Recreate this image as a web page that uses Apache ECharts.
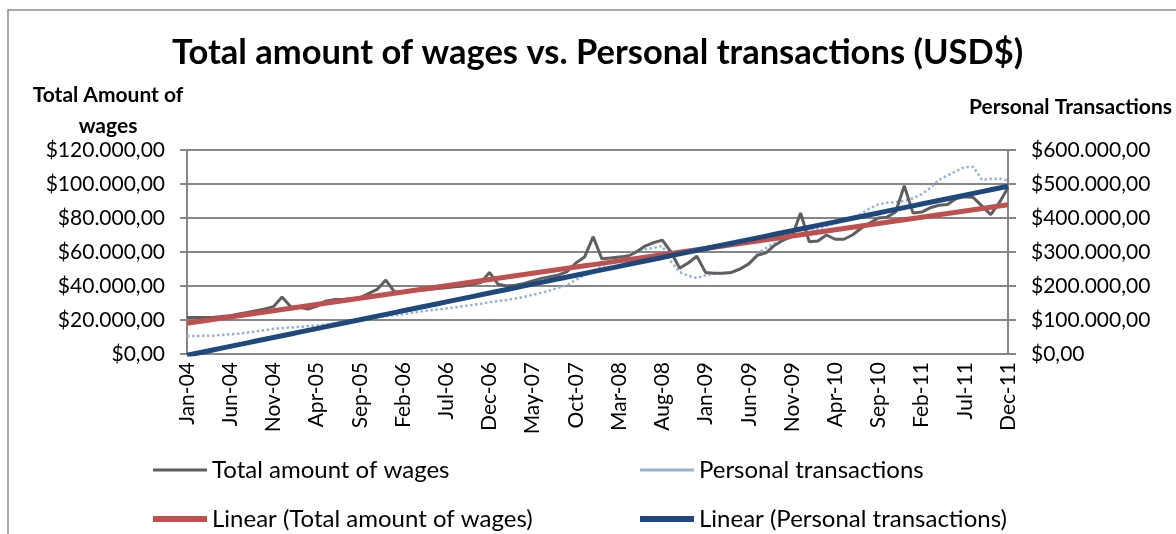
<!DOCTYPE html>
<html>
<head>
<meta charset="utf-8">
<script src="https://cdn.jsdelivr.net/npm/echarts@6/dist/echarts.min.js"></script>
<style>
  html, body { margin: 0; padding: 0; background: #fff; }
  #chart { width: 1176px; height: 534px; }
</style>
</head>
<body>
<div id="chart"></div>
<script>
// Months Jan-04 .. Dec-11
const monthNames = ['Jan', 'Feb', 'Mar', 'Apr', 'May', 'Jun', 'Jul', 'Aug', 'Sep', 'Oct', 'Nov', 'Dec'];
const years = ['04', '05', '06', '07', '08', '09', '10', '11'];
const months = [];
years.forEach(y => monthNames.forEach(m => months.push(m + '-' + y)));

// Total amount of wages (left axis, USD$)
const wages = [
    21500, 21500, 21500, 21500, 22000, 22500, 23500, 24500, 25500, 26500, 27800, 33500,
    27800, 27500, 26500, 28000, 31000, 32000, 32000, 32500, 33000, 35500, 38000, 43500,
    36500, 36500, 37000, 37500, 38000, 38500, 39000, 39500, 40000, 41000, 42000, 48000,
    41000, 40000, 40500, 41500, 43000, 44500, 45500, 46500, 48500, 53500, 57000, 69000,
    56000, 56500, 57000, 57500, 60000, 63500, 65500, 67000, 60000, 50500, 53500, 57500,
    48000, 47500, 47500, 48000, 50000, 53000, 58000, 59500, 64000, 67000, 69000, 83000,
    66000, 66500, 70000, 67500, 67500, 70000, 74000, 77000, 80000, 80500, 83500, 99000,
    83000, 83500, 86000, 87500, 88000, 91500, 92500, 92000, 87000, 82000, 89000, 98000
];

// Personal transactions (right axis, USD$)
const personal = [
    53000, 53000, 53500, 54000, 56000, 58000, 60000, 63000, 67000, 70000, 74000, 76000,
    78000, 80000, 82000, 84000, 86000, 89000, 91000, 95000, 99000, 103000, 107000, 111000,
    114000, 117000, 121000, 125000, 128000, 131000, 134000, 137000, 141000, 144000, 148000, 152000,
    156000, 159000, 163000, 168000, 174000, 180000, 187000, 195000, 203000, 218000, 232000, 245000,
    258000, 270000, 282000, 293000, 303000, 308000, 312000, 318000, 272000, 241000, 230000, 223000,
    232000, 236000, 238000, 241000, 250000, 264000, 295000, 312000, 326000, 336000, 344000, 352000,
    360000, 368000, 376000, 384000, 392000, 402000, 412000, 428000, 440000, 445000, 447000, 450000,
    458000, 470000, 488000, 512000, 525000, 538000, 550000, 550000, 512000, 515000, 516000, 510000
];

const leftTicks = [0, 20000, 40000, 60000, 80000, 100000, 120000];
const rightTicks = [0, 100000, 200000, 300000, 400000, 500000, 600000];

// least squares trend, like Excel's linear trendline
function linearTrend(values) {
    const n = values.length;
    let sx = 0, sy = 0, sxx = 0, sxy = 0;
    values.forEach((v, i) => {
        const x = i + 1;
        sx += x; sy += v; sxx += x * x; sxy += x * v;
    });
    const b = (n * sxy - sx * sy) / (n * sxx - sx * sx);
    const a = (sy - b * sx) / n;
    return values.map((v, i) => a + b * (i + 1));
}

// $120.000,00 style
function money(v) {
    return '$' + String(Math.round(v)).replace(/\B(?=(\d{3})+(?!\d))/g, '.') + ',00';
}

const FONT = 'Lato';
const chart = echarts.init(document.getElementById('chart'));

const legendBase = {
    orient: 'horizontal',
    itemWidth: 54,
    itemGap: 4,
    icon: 'rect',
    textStyle: { fontFamily: FONT, fontSize: 24, color: '#000' }
};

const option = {
    animation: false,
    backgroundColor: '#fff',
    textStyle: { fontFamily: FONT },
    title: {
        text: 'Total amount of wages vs. Personal transactions (USD$)',
        left: 167,
        top: 30,
        textStyle: { fontFamily: FONT, fontSize: 34.5, fontWeight: 'bold', color: '#000' }
    },
    graphic: [
        {
            type: 'rect',
            shape: { x: 8, y: 10, width: 1200, height: 560 },
            style: { fill: 'none', stroke: '#8c8c8c', lineWidth: 1.5 },
            silent: true
        },
        {
            type: 'text', x: 108, y: 95,
            style: { text: 'Total Amount of', font: 'bold 21px Lato', fill: '#000', align: 'center', verticalAlign: 'middle' }
        },
        {
            type: 'text', x: 108, y: 126,
            style: { text: 'wages', font: 'bold 21px Lato', fill: '#000', align: 'center', verticalAlign: 'middle' }
        },
        {
            type: 'text', x: 1172, y: 107,
            style: { text: 'Personal Transactions', font: 'bold 21px Lato', fill: '#000', align: 'right', verticalAlign: 'middle' }
        }
    ],
    legend: [
        Object.assign({}, legendBase, { left: 148, top: 453, itemHeight: 3, data: ['Total amount of wages'] }),
        Object.assign({}, legendBase, { left: 635, top: 453, itemHeight: 3, data: ['Personal transactions'] }),
        Object.assign({}, legendBase, { left: 148, top: 502, itemHeight: 6, data: ['Linear (Total amount of wages)'] }),
        Object.assign({}, legendBase, { left: 635, top: 502, itemHeight: 6, data: ['Linear (Personal transactions)'] })
    ],
    grid: { left: 187, right: 168, top: 150, bottom: 180 },
    xAxis: {
        type: 'category',
        data: months,
        boundaryGap: false,
        axisLine: { lineStyle: { color: '#868686', width: 2 } },
        axisTick: { show: false },
        axisLabel: { interval: 4, rotate: 90, fontFamily: FONT, fontSize: 21, color: '#000', margin: 8 }
    },
    yAxis: [
        {
            type: 'value',
            min: leftTicks[0],
            max: leftTicks[leftTicks.length - 1],
            interval: leftTicks[1] - leftTicks[0],
            axisLine: { show: true, lineStyle: { color: '#868686', width: 2 } },
            axisTick: { show: true, length: 7, lineStyle: { color: '#868686', width: 2 } },
            splitLine: { lineStyle: { color: '#868686', width: 2 } },
            axisLabel: { formatter: money, fontFamily: FONT, fontSize: 21, color: '#000', margin: 22 }
        },
        {
            type: 'value',
            min: rightTicks[0],
            max: rightTicks[rightTicks.length - 1],
            interval: rightTicks[1] - rightTicks[0],
            axisLine: { show: true, lineStyle: { color: '#868686', width: 2 } },
            axisTick: { show: true, length: 8, lineStyle: { color: '#868686', width: 2 } },
            splitLine: { show: false },
            axisLabel: { formatter: money, fontFamily: FONT, fontSize: 21, color: '#000', margin: 23 }
        }
    ],
    series: [
        {
            name: 'Total amount of wages',
            type: 'line',
            data: wages,
            yAxisIndex: 0,
            symbol: 'none',
            itemStyle: { color: '#5f5f5f' },
            lineStyle: { color: '#5f5f5f', width: 3 },
            z: 3
        },
        {
            name: 'Personal transactions',
            type: 'line',
            data: personal,
            yAxisIndex: 1,
            symbol: 'none',
            itemStyle: { color: '#95b3d7' },
            lineStyle: { color: '#95b3d7', width: 2.5, type: 'dotted' },
            z: 2
        },
        {
            name: 'Linear (Total amount of wages)',
            type: 'line',
            data: linearTrend(wages),
            yAxisIndex: 0,
            symbol: 'none',
            itemStyle: { color: '#c0504d' },
            lineStyle: { color: '#c0504d', width: 5 },
            z: 4
        },
        {
            name: 'Linear (Personal transactions)',
            type: 'line',
            data: linearTrend(personal),
            yAxisIndex: 1,
            symbol: 'none',
            itemStyle: { color: '#1f497d' },
            lineStyle: { color: '#1f497d', width: 5 },
            z: 5
        }
    ]
};

chart.setOption(option);
</script>
</body>
</html>
